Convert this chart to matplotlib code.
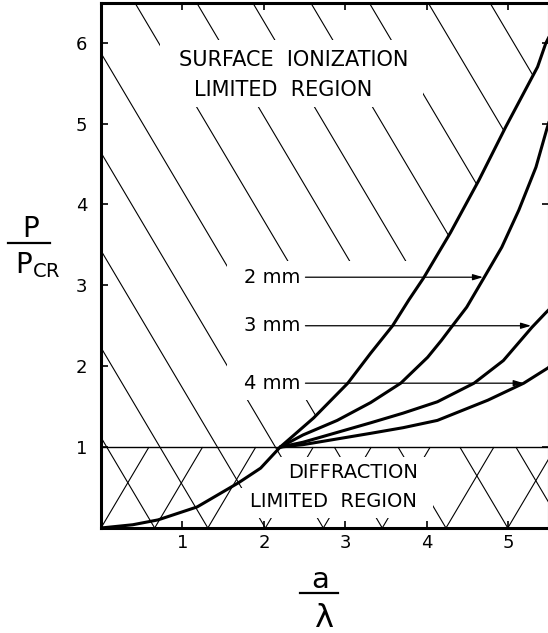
import matplotlib
matplotlib.use('Agg')
import matplotlib.pyplot as plt
from matplotlib.collections import LineCollection
from matplotlib.patches import Polygon, Rectangle
from matplotlib.lines import Line2D

plt.rcParams['font.family'] = ['DejaVu Sans']

# ------------------------------------------------------------
# curves (a/lambda, P/Pcr)
# ------------------------------------------------------------
main_x = [0.0, 0.39, 0.70, 1.18, 1.69, 1.96, 2.20, 2.61, 3.03, 3.31, 3.58,
          3.78, 3.96, 4.29, 4.64, 4.97, 5.36, 5.46, 5.50]
main_y = [0.0, 0.04, 0.10, 0.26, 0.56, 0.74, 1.00, 1.36, 1.79, 2.16, 2.50,
          2.82, 3.09, 3.65, 4.30, 4.96, 5.70, 5.99, 6.07]

mm2_x = [2.20, 2.48, 2.90, 3.31, 3.68, 4.01, 4.18, 4.30, 4.49, 4.70, 4.92,
         5.13, 5.34, 5.47, 5.50]
mm2_y = [1.00, 1.15, 1.33, 1.55, 1.79, 2.11, 2.32, 2.48, 2.73, 3.09, 3.47,
         3.93, 4.46, 4.92, 5.02]

mm3_x = [2.20, 2.48, 3.31, 3.71, 4.13, 4.58, 4.94, 5.29, 5.46, 5.50]
mm3_y = [1.00, 1.06, 1.30, 1.42, 1.56, 1.79, 2.07, 2.48, 2.66, 2.70]

mm4_x = [2.20, 2.48, 3.31, 3.71, 4.13, 4.75, 5.19, 5.49, 5.50]
mm4_y = [1.00, 1.03, 1.17, 1.24, 1.33, 1.58, 1.79, 1.98, 1.99]

labels = ['2 mm', '3 mm', '4 mm']
label_y = [3.10, 2.50, 1.79]
arrow_tip_x = [4.69, 5.28, 5.19]

# hatch line offsets (y = b - slope*x)
hatch_b = [1.12, 2.23, 3.43, 4.64, 5.87, 7.20, 8.49, 9.66, 10.87, 12.09,
           13.32, 14.61]
hatch_slope = 1.7

XMAX, YMAX = 5.5, 6.49

# ------------------------------------------------------------
fig = plt.figure(figsize=(5.48, 6.33), dpi=100)
ax = fig.add_axes([0.1843, 0.1659, 0.8175, 0.8294])
ax.set_xlim(0, XMAX)
ax.set_ylim(0, YMAX)

# upper hatch, clipped to the region left of the main curve
upper = []
for b in hatch_b:
    x1 = max(0.0, (b - YMAX) / hatch_slope)
    upper.append([(x1, b - hatch_slope * x1), ((b - 1) / hatch_slope, 1.0)])
clip_verts = [(0, 1)] + [(x, y) for x, y in zip(main_x, main_y) if x >= 2.2]
clip_verts += [(XMAX, YMAX + 0.2), (0, YMAX + 0.2)]
clip_poly = Polygon(clip_verts, closed=True, transform=ax.transData)
lc_up = LineCollection(upper, colors='black', linewidths=0.8, zorder=1)
ax.add_collection(lc_up)
lc_up.set_clip_path(clip_poly)

# lower cross hatch (0 < y < 1)
lower = []
for b in hatch_b:
    lower.append([((b - 1) / hatch_slope, 1.0), (b / hatch_slope, 0.0)])
for c in [0.0] + [b / hatch_slope for b in hatch_b]:
    lower.append([(c, 0.0), (c + 1 / hatch_slope, 1.0)])
ax.add_collection(LineCollection(lower, colors='black', linewidths=0.8, zorder=1))

# blank areas around the lettering
for (x0, y0, w, h) in [(0.72, 5.20, 3.23, 0.83),
                       (1.55, 1.58, 4.0, 1.72),
                       (2.20, 0.50, 1.88, 0.38),
                       (1.65, 0.12, 2.43, 0.38)]:
    ax.add_patch(Rectangle((x0, y0), w, h, facecolor='white',
                           edgecolor='none', zorder=2))

ax.axhline(1.0, color='black', lw=1.0, zorder=3)

for xs, ys in [(main_x, main_y), (mm2_x, mm2_y), (mm3_x, mm3_y), (mm4_x, mm4_y)]:
    ax.plot(xs, ys, color='black', lw=2.2, solid_capstyle='round',
            solid_joinstyle='round', zorder=4)

for lab, yy, tip in zip(labels, label_y, arrow_tip_x):
    ax.text(1.75, yy, lab, fontsize=14, ha='left', va='center', zorder=5)
    ax.annotate('', xy=(tip, yy), xytext=(2.51, yy),
                arrowprops=dict(arrowstyle='-|>,head_length=0.6,head_width=0.18',
                                lw=0.9, color='black', shrinkA=0, shrinkB=0),
                zorder=5)

ax.text(2.36, 5.79, 'SURFACE  IONIZATION', fontsize=15, ha='center', va='center', zorder=5)
ax.text(2.23, 5.41, 'LIMITED  REGION', fontsize=15, ha='center', va='center', zorder=5)
ax.text(3.09, 0.68, 'DIFFRACTION', fontsize=14, ha='center', va='center', zorder=5)
ax.text(2.85, 0.33, 'LIMITED  REGION', fontsize=14, ha='center', va='center', zorder=5)

# axes styling
for s in ax.spines.values():
    s.set_linewidth(2.2)
ax.set_xticks([1, 2, 3, 4, 5])
ax.set_yticks([1, 2, 3, 4, 5, 6])
ax.tick_params(direction='in', length=5, width=1.2, top=True, right=True,
               labelsize=13)
ax.tick_params(axis='x', pad=4)
ax.tick_params(axis='y', pad=10)

# fraction labels
fig.text(0.0566, 0.6256, 'P', fontsize=20, ha='center', va='baseline')
fig.add_artist(Line2D([0.0146, 0.0912], [0.616, 0.616], color='black', lw=1.6))
fig.text(0.027, 0.5687, 'P$_{\\mathregular{CR}}$', fontsize=20, ha='left', va='baseline')

fig.text(0.584, 0.071, 'a', fontsize=21, ha='center', va='baseline')
fig.add_artist(Line2D([0.547, 0.617], [0.0632, 0.0632], color='black', lw=1.6))
fig.text(0.593, 0.0095, 'λ', fontsize=23, ha='center', va='baseline')

fig.savefig('out.png', dpi=100, facecolor='white')
